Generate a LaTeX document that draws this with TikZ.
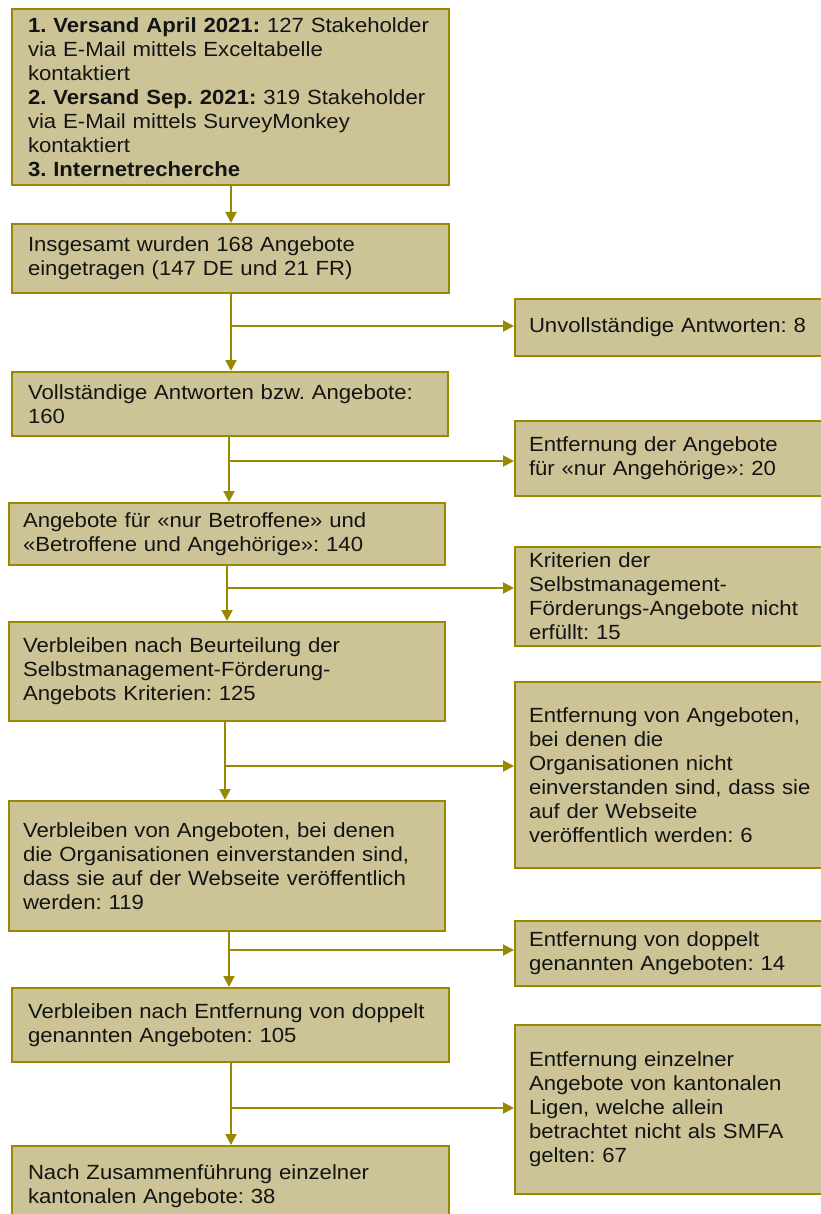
\documentclass[tikz,border=0pt]{standalone}
\usepackage{fontspec}
\setmainfont{Liberation Sans}[FakeStretch=1.08]
\usetikzlibrary{arrows.meta}
\definecolor{boxfill}{RGB}{204,196,150}
\definecolor{lineolive}{RGB}{153,137,0}
\definecolor{textdark}{RGB}{20,20,20}
\frenchspacing
\tikzset{
  box/.style={draw=lineolive, fill=boxfill, line width=2pt, anchor=north west,
    inner xsep=16pt, inner ysep=0pt, align=left, text=textdark,
    font=\fontsize{20.5}{24}\selectfont\frenchspacing},
  rbox/.style={box, minimum width=312pt, inner xsep=14pt, text width=284pt},
  arr/.style={draw=lineolive, line width=2pt, -{Triangle[length=11pt,width=11pt]}}
}
\begin{document}
\begin{tikzpicture}[x=1pt,y=1pt]
\useasboundingbox (0,0) rectangle (820,-1214);
\fill[white] (0,0) rectangle (820,-1214);
% left column
\node[box, minimum width=437pt, minimum height=176pt, text width=405pt] (b1) at (11,-8)
  {\textbf{1. Versand April 2021:} 127 Stakeholder\\ via E-Mail mittels Exceltabelle\\ kontaktiert\\ \textbf{2. Versand Sep. 2021:} 319 Stakeholder\\ via E-Mail mittels SurveyMonkey\\ kontaktiert\\ \textbf{3. Internetrecherche}};
\node[box, minimum width=437pt, minimum height=69pt, text width=405pt] (b2) at (11,-223)
  {Insgesamt wurden 168 Angebote\\ eingetragen (147 DE und 21 FR)};
\node[box, minimum width=436pt, minimum height=64pt, text width=404pt] (b3) at (11,-371)
  {Vollständige Antworten bzw. Angebote:\\ 160};
\node[box, minimum width=436pt, minimum height=62pt, text width=408pt, inner xsep=14pt] (b4) at (8,-502)
  {Angebote für «nur Betroffene» und\\ «Betroffene und Angehörige»: 140};
\node[box, minimum width=436pt, minimum height=99pt, text width=408pt, inner xsep=14pt] (b5) at (8,-621)
  {Verbleiben nach Beurteilung der\\ Selbstmanagement-Förderung-\\ Angebots Kriterien: 125};
\node[box, minimum width=436pt, minimum height=130pt, text width=408pt, inner xsep=14pt] (b6) at (8,-800)
  {Verbleiben von Angeboten, bei denen\\ die Organisationen einverstanden sind,\\ dass sie auf der Webseite veröffentlich\\ werden: 119};
\node[box, minimum width=437pt, minimum height=74pt, text width=405pt] (b7) at (11,-987)
  {Verbleiben nach Entfernung von doppelt\\ genannten Angeboten: 105};
\node[box, minimum width=437pt, minimum height=80pt, text width=405pt] (b8) at (11,-1145)
  {Nach Zusammenführung einzelner\\ kantonalen Angebote: 38};
% right column
\node[rbox, minimum height=57pt] (r1) at (514,-298)
  {Unvollständige Antworten: 8};
\node[rbox, minimum height=75pt] (r2) at (514,-420)
  {Entfernung der Angebote\\ für «nur Angehörige»: 20};
\node[rbox, minimum height=99pt] (r3) at (514,-546)
  {Kriterien der\\ Selbstmanagement-\\ Förderungs-Angebote nicht\\ erfüllt: 15};
\node[rbox, minimum height=186pt] (r4) at (514,-681)
  {Entfernung von Angeboten,\\ bei denen die\\ Organisationen nicht\\ einverstanden sind, dass sie\\ auf der Webseite\\ veröffentlich werden: 6};
\node[rbox, minimum height=65pt] (r5) at (514,-920)
  {Entfernung von doppelt\\ genannten Angeboten: 14};
\node[rbox, minimum height=169pt] (r6) at (514,-1024)
  {Entfernung einzelner\\ Angebote von kantonalen\\ Ligen, welche allein\\ betrachtet nicht als SMFA\\ gelten: 67};
% junctions
\coordinate (j0) at (231,-200);
\coordinate (j1) at (231,-326);
\coordinate (j2) at (229,-461);
\coordinate (j3) at (227,-588);
\coordinate (j4) at (225,-766);
\coordinate (j5) at (229,-950);
\coordinate (j6) at (231,-1108);
% connectors
\draw[arr] (b1.south -| j0) -- (b2.north -| j0);
\draw[arr] (b2.south -| j1) -- (b3.north -| j1);
\draw[arr] (j1) -- (j1 -| r1.west);
\draw[arr] (b3.south -| j2) -- (b4.north -| j2);
\draw[arr] (j2) -- (j2 -| r2.west);
\draw[arr] (b4.south -| j3) -- (b5.north -| j3);
\draw[arr] (j3) -- (j3 -| r3.west);
\draw[arr] (b5.south -| j4) -- (b6.north -| j4);
\draw[arr] (j4) -- (j4 -| r4.west);
\draw[arr] (b6.south -| j5) -- (b7.north -| j5);
\draw[arr] (j5) -- (j5 -| r5.west);
\draw[arr] (b7.south -| j6) -- (b8.north -| j6);
\draw[arr] (j6) -- (j6 -| r6.west);
\end{tikzpicture}
\end{document}
